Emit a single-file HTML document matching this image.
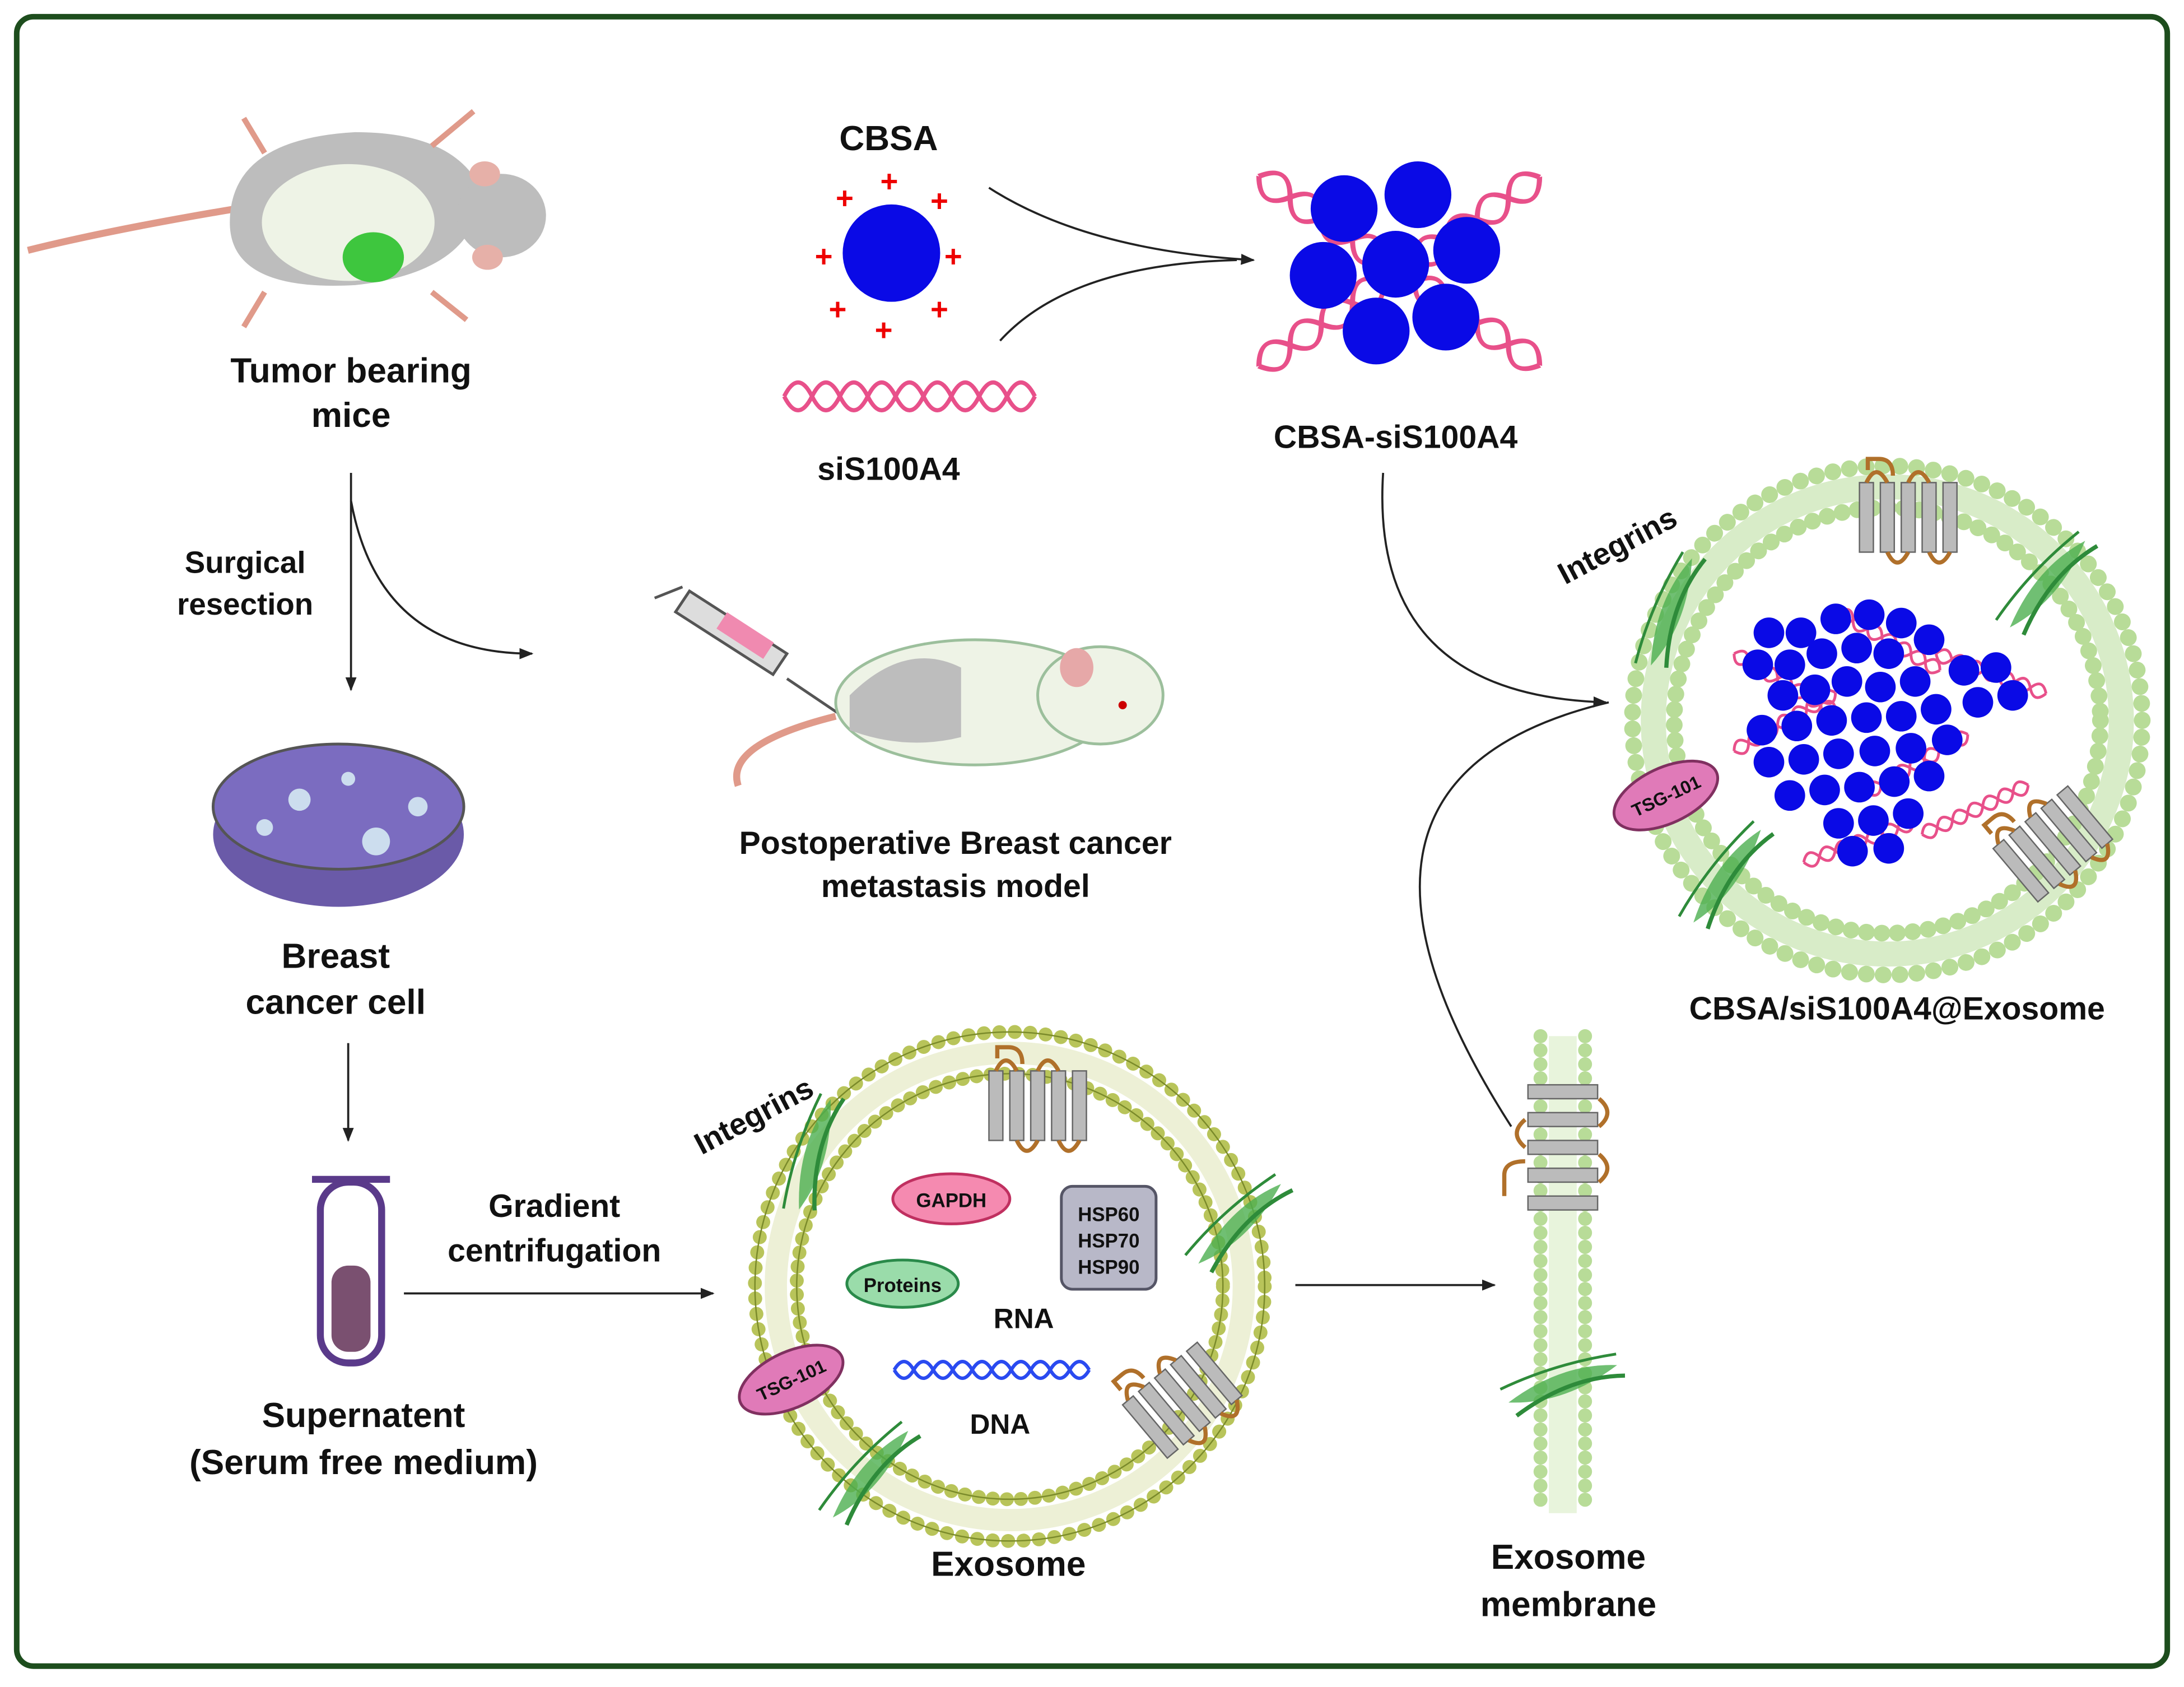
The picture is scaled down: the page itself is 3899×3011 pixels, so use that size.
<!DOCTYPE html>
<html><head><meta charset="utf-8"><style>
html,body{margin:0;padding:0;background:#fff;}
svg{display:block;}
text{font-family:"Liberation Sans",sans-serif;font-weight:bold;fill:#111;}
</style></head><body>
<svg width="3899" height="3011" viewBox="0 0 1568 1213" preserveAspectRatio="none" xmlns="http://www.w3.org/2000/svg">
<defs>
<marker id="ar" markerWidth="10" markerHeight="10" refX="9" refY="5" orient="auto" markerUnits="userSpaceOnUse"><path d="M0,1 L10,5 L0,9 z" fill="#222"/></marker>
<g id="dna">
<path d="M0,0 q10,-20 20,0 t20,0 t20,0 t20,0 t20,0 t20,0 t20,0 t20,0 t20,0" fill="none" stroke="#e8508a" stroke-width="3"/>
<path d="M0,0 q10,20 20,0 t20,0 t20,0 t20,0 t20,0 t20,0 t20,0 t20,0 t20,0" fill="none" stroke="#e8508a" stroke-width="3"/>
</g>
<g id="dnab">
<path d="M0,0 q7,-12 14,0 t14,0 t14,0 t14,0 t14,0 t14,0 t14,0 t14,0 t14,0 t14,0" fill="none" stroke="#2a4af0" stroke-width="2.5"/>
<path d="M0,0 q7,12 14,0 t14,0 t14,0 t14,0 t14,0 t14,0 t14,0 t14,0 t14,0 t14,0" fill="none" stroke="#2a4af0" stroke-width="2.5"/>
</g>
<g id="dnas">
<path d="M0,0 q6,-10 12,0 t12,0 t12,0 t12,0 t12,0 t12,0 t12,0" fill="none" stroke="#e8508a" stroke-width="2"/>
<path d="M0,0 q6,10 12,0 t12,0 t12,0 t12,0 t12,0 t12,0 t12,0" fill="none" stroke="#e8508a" stroke-width="2"/>
</g>
<g id="prot">
<path d="M-6,-30 q0,-12 -10,-12 h-8 v8" fill="none" stroke="#b0702a" stroke-width="3"/>
<rect x="-30" y="-25" width="10" height="50" fill="#bbb" stroke="#666"/>
<rect x="-15" y="-25" width="10" height="50" fill="#bbb" stroke="#666"/>
<rect x="0" y="-25" width="10" height="50" fill="#bbb" stroke="#666"/>
<rect x="15" y="-25" width="10" height="50" fill="#bbb" stroke="#666"/>
<rect x="30" y="-25" width="10" height="50" fill="#bbb" stroke="#666"/>
<path d="M-25,-25 q7,-15 15,0 M5,-25 q7,-15 15,0 M-10,25 q7,15 15,0 M20,25 q7,15 15,0" fill="none" stroke="#b0702a" stroke-width="3"/>
</g>
<g id="integ">
<path d="M-40,10 q40,-25 80,-20 q-40,25 -80,20z" fill="#4caf50" opacity="0.8"/>
<path d="M-35,20 q40,-25 80,-22" fill="none" stroke="#2e8b3a" stroke-width="3"/>
<path d="M-45,0 q40,-15 85,-18" fill="none" stroke="#2e8b3a" stroke-width="2"/>
</g>
</defs>
<rect x="0" y="0" width="1568" height="1213" fill="#fff"/>
<rect x="12" y="12" width="1544" height="1186" rx="12" fill="#fff" stroke="#1d4d1d" stroke-width="4"/>

<!-- tumor mouse top-left -->
<path d="M20,180 q60,-15 150,-30" fill="none" stroke="#e09a8a" stroke-width="5"/>
<path d="M165,160 q0,-60 90,-65 q70,0 90,40 q0,60 -90,70 q-90,5 -90,-45z" fill="#bdbdbd"/>
<ellipse cx="250" cy="160" rx="62" ry="42" fill="#eef3e6"/>
<ellipse cx="360" cy="155" rx="32" ry="30" fill="#bdbdbd"/>
<ellipse cx="348" cy="125" rx="11" ry="9" fill="#e6b0a8"/>
<ellipse cx="350" cy="185" rx="11" ry="9" fill="#e6b0a8"/>
<ellipse cx="268" cy="185" rx="22" ry="18" fill="#3ec63e"/>
<path d="M190,110 l-15,-25 M310,105 l30,-25 M190,210 l-15,25 M310,210 l25,20" stroke="#e09a8a" stroke-width="4"/>
<text x="252" y="275" font-size="25" text-anchor="middle">Tumor bearing</text>
<text x="252" y="307" font-size="25" text-anchor="middle">mice</text>

<!-- arrows left column -->
<line x1="252" y1="340" x2="252" y2="496" stroke="#222" stroke-width="1.5" marker-end="url(#ar)"/>
<path d="M252,360 q20,110 130,110" fill="none" stroke="#222" stroke-width="1.5" marker-end="url(#ar)"/>
<text x="176" y="412" font-size="22" text-anchor="middle">Surgical</text>
<text x="176" y="442" font-size="22" text-anchor="middle">resection</text>

<!-- petri dish -->
<ellipse cx="243" cy="600" rx="90" ry="52" fill="#6a5aa8"/>
<ellipse cx="243" cy="580" rx="90" ry="45" fill="#7b6cc0" stroke="#555" stroke-width="2"/>
<circle cx="215" cy="575" r="8" fill="#cde"/><circle cx="270" cy="605" r="10" fill="#cde"/><circle cx="190" cy="595" r="6" fill="#cde"/><circle cx="300" cy="580" r="7" fill="#cde"/><circle cx="250" cy="560" r="5" fill="#cde"/>
<text x="241" y="696" font-size="25" text-anchor="middle">Breast</text>
<text x="241" y="729" font-size="25" text-anchor="middle">cancer cell</text>
<line x1="250" y1="750" x2="250" y2="820" stroke="#222" stroke-width="1.5" marker-end="url(#ar)"/>

<!-- tube -->
<rect x="230" y="850" width="44" height="130" rx="20" fill="#fff" stroke="#5a3a8a" stroke-width="5"/>
<rect x="238" y="910" width="28" height="62" rx="12" fill="#7a5070"/>
<line x1="224" y1="848" x2="280" y2="848" stroke="#5a3a8a" stroke-width="5"/>
<text x="261" y="1026" font-size="25" text-anchor="middle">Supernatent</text>
<text x="261" y="1060" font-size="25" text-anchor="middle">(Serum free medium)</text>
<line x1="290" y1="930" x2="512" y2="930" stroke="#222" stroke-width="1.5" marker-end="url(#ar)"/>
<text x="398" y="875" font-size="23" text-anchor="middle">Gradient</text>
<text x="398" y="907" font-size="23" text-anchor="middle">centrifugation</text>

<!-- CBSA -->
<text x="638" y="108" font-size="25" text-anchor="middle">CBSA</text>
<circle cx="640" cy="182" r="35" fill="#0a0ae6"/>
<g font-size="22"><text x="600" y="150" style="fill:#e00">+</text><text x="632" y="138" style="fill:#e00">+</text><text x="668" y="152" style="fill:#e00">+</text><text x="585" y="192" style="fill:#e00">+</text><text x="678" y="192" style="fill:#e00">+</text><text x="595" y="230" style="fill:#e00">+</text><text x="628" y="245" style="fill:#e00">+</text><text x="668" y="230" style="fill:#e00">+</text></g>
<use href="#dna" x="563" y="285"/>
<text x="638" y="345" font-size="23" text-anchor="middle">siS100A4</text>
<path d="M710,135 q70,45 190,52" fill="none" stroke="#222" stroke-width="1.5" marker-end="url(#ar)"/>
<path d="M718,245 q50,-55 170,-58" fill="none" stroke="#222" stroke-width="1.5"/>

<!-- CBSA-siS100A4 complex -->
<use href="#dna" transform="translate(1005,195) rotate(34) translate(-122,0) scale(1.35 1)"/>
<use href="#dna" transform="translate(1005,195) rotate(-34) translate(-122,0) scale(1.35 1)"/>
<g fill="#0a0ae6"><circle cx="965" cy="150" r="24"/><circle cx="1018" cy="140" r="24"/><circle cx="950" cy="198" r="24"/><circle cx="1002" cy="190" r="24"/><circle cx="1053" cy="180" r="24"/><circle cx="988" cy="238" r="24"/><circle cx="1038" cy="228" r="24"/></g>
<text x="1002" y="322" font-size="23" text-anchor="middle">CBSA-siS100A4</text>
<path d="M993,340 q-10,160 160,165" fill="none" stroke="#222" stroke-width="1.5" marker-end="url(#ar)"/>
<path d="M1085,810 q-160,-250 70,-305" fill="none" stroke="#222" stroke-width="1.5"/>

<!-- injected mouse -->
<path d="M470,430 l20,-8 M485,440 l70,45 l10,-15 l-70,-45z" fill="#ddd" stroke="#555" stroke-width="2"/>
<rect x="515" y="450" width="40" height="14" fill="#f08ab0" transform="rotate(33 535 457)"/>
<line x1="565" y1="488" x2="605" y2="515" stroke="#555" stroke-width="2"/>
<path d="M600,515 q-80,20 -70,50" fill="none" stroke="#e09a8a" stroke-width="5"/>
<ellipse cx="700" cy="505" rx="100" ry="45" fill="#eef3e6" stroke="#9cbf9c" stroke-width="2"/>
<path d="M610,500 q40,-40 80,-20 v50 q-40,10 -80,-5z" fill="#bdbdbd"/>
<ellipse cx="790" cy="500" rx="45" ry="35" fill="#eef3e6" stroke="#9cbf9c" stroke-width="2"/>
<ellipse cx="773" cy="480" rx="12" ry="14" fill="#e6a8a8"/>
<circle cx="806" cy="507" r="3" fill="#c00"/>
<text x="686" y="614" font-size="23" text-anchor="middle">Postoperative Breast cancer</text>
<text x="686" y="645" font-size="23" text-anchor="middle">metastasis model</text>

<!-- Exosome 1 -->
<g transform="translate(725,925)">
<circle r="183" fill="none" stroke="#b8c45a" stroke-width="10" stroke-dasharray="0.1 11" stroke-linecap="round"/>
<circle r="183" fill="none" stroke="#7a8a2a" stroke-width="1"/>
<circle r="168" fill="none" stroke="#b8c45a" stroke-width="16" stroke-opacity="0.25"/>
<circle r="153" fill="none" stroke="#b8c45a" stroke-width="10" stroke-dasharray="0.1 10" stroke-linecap="round"/>
<circle r="153" fill="none" stroke="#7a8a2a" stroke-width="1"/>
</g>
<use href="#prot" x="740" y="795"/>
<use href="#prot" transform="translate(845,1010) rotate(-40)"/>
<use href="#integ" transform="translate(585,830) rotate(-60)"/>
<use href="#integ" transform="translate(890,880) rotate(-30)"/>
<use href="#integ" transform="translate(625,1060) rotate(-35)"/>
<text x="540" y="810" font-size="22" text-anchor="middle" transform="rotate(-28 540 800)">Integrins</text>
<ellipse cx="683" cy="862" rx="42" ry="18" fill="#f58ab0" stroke="#c03060" stroke-width="2"/>
<text x="683" y="868" font-size="14" text-anchor="middle">GAPDH</text>
<ellipse cx="648" cy="923" rx="40" ry="17" fill="#9adcaa" stroke="#2a8a4a" stroke-width="2"/>
<text x="648" y="929" font-size="14" text-anchor="middle">Proteins</text>
<rect x="762" y="853" width="68" height="74" rx="8" fill="#b8b8c8" stroke="#556" stroke-width="2"/>
<text x="796" y="878" font-size="14" text-anchor="middle">HSP60</text>
<text x="796" y="897" font-size="14" text-anchor="middle">HSP70</text>
<text x="796" y="916" font-size="14" text-anchor="middle">HSP90</text>
<text x="735" y="955" font-size="20" text-anchor="middle">RNA</text>
<use href="#dnab" x="642" y="985"/>
<text x="718" y="1031" font-size="20" text-anchor="middle">DNA</text>
<ellipse cx="568" cy="992" rx="40" ry="20" fill="#e07ab8" stroke="#803060" stroke-width="2" transform="rotate(-25 568 992)"/>
<text x="568" y="997" font-size="13" text-anchor="middle" transform="rotate(-25 568 992)">TSG-101</text>
<text x="724" y="1133" font-size="25" text-anchor="middle">Exosome</text>
<line x1="930" y1="924" x2="1073" y2="924" stroke="#222" stroke-width="1.5" marker-end="url(#ar)"/>

<!-- membrane strip -->
<line x1="1106" y1="745" x2="1106" y2="1088" stroke="#b8dc98" stroke-width="10" stroke-dasharray="0.1 10" stroke-linecap="round"/>
<line x1="1138" y1="745" x2="1138" y2="1088" stroke="#b8dc98" stroke-width="10" stroke-dasharray="0.1 10" stroke-linecap="round"/>
<rect x="1112" y="745" width="20" height="343" fill="#e8f4dc"/>
<g fill="#bbb" stroke="#666"><rect x="1097" y="780" width="50" height="10"/><rect x="1097" y="800" width="50" height="10"/><rect x="1097" y="820" width="50" height="10"/><rect x="1097" y="840" width="50" height="10"/><rect x="1097" y="860" width="50" height="10"/></g>
<path d="M1080,860 v-15 q0,-10 15,-10 M1148,790 q12,10 0,20 M1148,830 q12,10 0,20 M1095,805 q-12,10 0,20" fill="none" stroke="#b0702a" stroke-width="3"/>
<use href="#integ" transform="translate(1122,995) rotate(-5)"/>
<text x="1126" y="1128" font-size="25" text-anchor="middle">Exosome</text>
<text x="1126" y="1162" font-size="25" text-anchor="middle">membrane</text>

<!-- Exosome 2 -->
<g transform="translate(1355,518)">
<circle r="183" fill="none" stroke="#b8dc98" stroke-width="12" stroke-dasharray="0.1 12" stroke-linecap="round"/>
<circle r="168" fill="none" stroke="#d8ecc8" stroke-width="18"/>
<circle r="153" fill="none" stroke="#b8dc98" stroke-width="12" stroke-dasharray="0.1 11" stroke-linecap="round"/>
</g>
<use href="#prot" x="1365" y="372"/>
<use href="#prot" transform="translate(1470,610) rotate(-40)"/>
<use href="#integ" transform="translate(1200,440) rotate(-55)"/>
<use href="#integ" transform="translate(1470,420) rotate(-35)"/>
<use href="#integ" transform="translate(1240,630) rotate(-40)"/>
<text x="1160" y="400" font-size="22" text-anchor="middle" transform="rotate(-28 1160 390)">Integrins</text>
<ellipse cx="1196" cy="572" rx="40" ry="20" fill="#e07ab8" stroke="#803060" stroke-width="2" transform="rotate(-25 1196 572)"/>
<text x="1196" y="577" font-size="13" text-anchor="middle" transform="rotate(-25 1196 572)">TSG-101</text>
<g>
<use href="#dnas" transform="translate(1245,470) rotate(30)"/>
<use href="#dnas" transform="translate(1245,540) rotate(-30)"/>
<use href="#dnas" transform="translate(1320,440) rotate(30)"/>
<use href="#dnas" transform="translate(1340,570) rotate(-30)"/>
<use href="#dnas" transform="translate(1390,470) rotate(20)"/>
<use href="#dnas" transform="translate(1295,620) rotate(-20)"/>
<use href="#dnas" transform="translate(1380,600) rotate(-25)"/>
</g>
<g fill="#0a0ae6">
<circle cx="1270" cy="455" r="11"/><circle cx="1293" cy="455" r="11"/><circle cx="1318" cy="445" r="11"/><circle cx="1342" cy="442" r="11"/><circle cx="1365" cy="448" r="11"/>
<circle cx="1262" cy="478" r="11"/><circle cx="1285" cy="478" r="11"/><circle cx="1308" cy="470" r="11"/><circle cx="1333" cy="466" r="11"/><circle cx="1356" cy="470" r="11"/><circle cx="1385" cy="460" r="11"/>
<circle cx="1280" cy="500" r="11"/><circle cx="1303" cy="496" r="11"/><circle cx="1326" cy="490" r="11"/><circle cx="1350" cy="494" r="11"/><circle cx="1375" cy="490" r="11"/><circle cx="1410" cy="482" r="11"/><circle cx="1433" cy="480" r="11"/>
<circle cx="1265" cy="525" r="11"/><circle cx="1290" cy="522" r="11"/><circle cx="1315" cy="518" r="11"/><circle cx="1340" cy="516" r="11"/><circle cx="1365" cy="515" r="11"/><circle cx="1390" cy="510" r="11"/><circle cx="1420" cy="505" r="11"/><circle cx="1445" cy="500" r="11"/>
<circle cx="1270" cy="548" r="11"/><circle cx="1295" cy="546" r="11"/><circle cx="1320" cy="542" r="11"/><circle cx="1346" cy="540" r="11"/><circle cx="1372" cy="538" r="11"/><circle cx="1398" cy="532" r="11"/>
<circle cx="1285" cy="572" r="11"/><circle cx="1310" cy="568" r="11"/><circle cx="1335" cy="566" r="11"/><circle cx="1360" cy="562" r="11"/><circle cx="1385" cy="558" r="11"/>
<circle cx="1320" cy="592" r="11"/><circle cx="1345" cy="590" r="11"/><circle cx="1370" cy="585" r="11"/><circle cx="1330" cy="612" r="11"/><circle cx="1356" cy="610" r="11"/>
</g>
<text x="1362" y="733" font-size="23" text-anchor="middle">CBSA/siS100A4@Exosome</text>
</svg>
</body></html>
